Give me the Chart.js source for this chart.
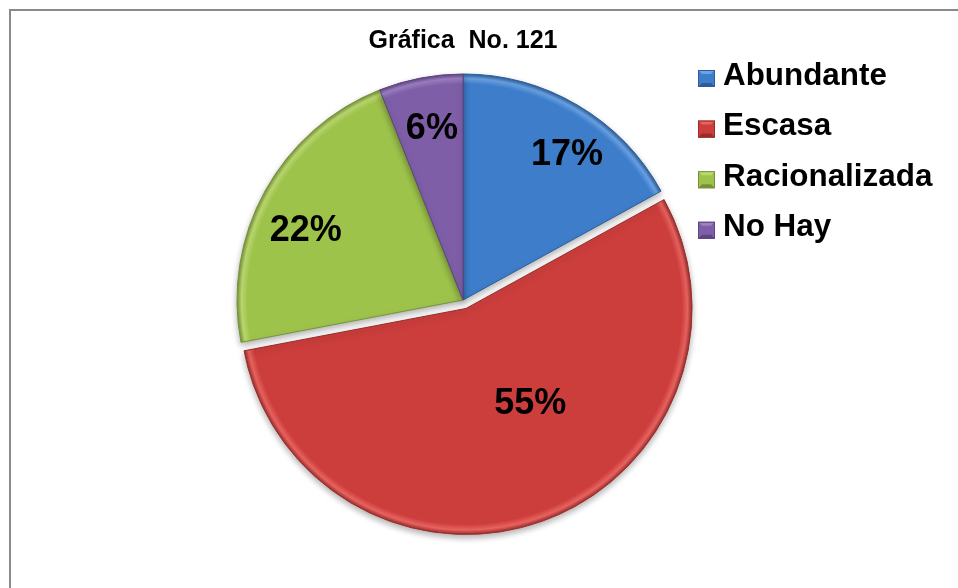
<!DOCTYPE html>
<html lang="es">
<head>
<meta charset="UTF-8">
<title>Gráfica No. 121</title>
<script src="https://cdn.jsdelivr.net/npm/chart.js"></script>
<style>
    body {
        margin: 0;
        background: #fff;
    }
    .contenedor {
        position: relative;
        width: 958px;
        height: 588px;
        overflow: hidden;
    }
    .marco {
        position: absolute;
        left: 9px;
        top: 9px;
        width: 1000px;
        height: 1000px;
        border: 2px solid #8a8a8a;
    }
    canvas {
        position: absolute;
        left: 0;
        top: 0;
    }
</style>
</head>
<body>
<div class="contenedor">
    <div class="marco"></div>
    <canvas id="grafica" width="958" height="588"></canvas>
</div>

<script>
// datos de la gráfica
const titulo = 'Gráfica  No. 121';
const categorias = ['Abundante', 'Escasa', 'Racionalizada', 'No Hay'];
const porcentajes = [17, 55, 22, 6];

// colores: base, brillo y borde de cada porción
const colorBase = ['#3d7dca', '#cc3e3c', '#9ec34b', '#7e5ea7'];
const colorClaro = ['#6aa3e6', '#e86360', '#bcd970', '#9d80c4'];
const colorOscuro = ['#2c5d98', '#9a2d2b', '#76933a', '#5d4580'];

// la porción "Escasa" va separada del resto
const separacion = [0, 9, 0, 0];

// dónde va cada porcentaje: fracción del radio y giro en grados
const ubicacionEtiquetas = [
    { dist: 0.79, giro: 5 },
    { dist: 0.51, giro: -14 },
    { dist: 0.76, giro: -5 },
    { dist: 0.77, giro: 0.5 }
];

const fuente = '"Liberation Sans", Arial, sans-serif';

function anguloMedio(i) {
    const total = porcentajes.reduce((a, b) => a + b, 0);
    const antes = porcentajes.slice(0, i).reduce((a, b) => a + b, 0);
    return -Math.PI / 2 + 2 * Math.PI * (antes + porcentajes[i] / 2) / total;
}

function rellenoPorcion(ctx) {
    const i = ctx.dataIndex;
    const chart = ctx.chart;
    const area = chart.chartArea;
    if (!area) return colorBase[i];
    const r = ctx.dataset.radius;
    const a = anguloMedio(i);
    const cx = (area.left + area.right) / 2 + Math.cos(a) * separacion[i];
    const cy = (area.top + area.bottom) / 2 + Math.sin(a) * separacion[i];
    const g = chart.ctx.createRadialGradient(cx, cy, 0, cx, cy, r);
    g.addColorStop(0, colorBase[i]);
    g.addColorStop(0.955, colorBase[i]);
    g.addColorStop(0.98, colorClaro[i]);
    g.addColorStop(1, colorOscuro[i]);
    return g;
}

// mueve hacia afuera las porciones separadas
const separarPorciones = {
    id: 'separarPorciones',
    afterDatasetUpdate(chart, args) {
        args.meta.data.forEach((arc, i) => {
            const s = separacion[i] || 0;
            if (!s) return;
            const mid = (arc.startAngle + arc.endAngle) / 2;
            arc.x += Math.cos(mid) * s;
            arc.y += Math.sin(mid) * s;
        });
    }
};

// sombra suave debajo del pastel
const sombra = {
    id: 'sombra',
    beforeDatasetsDraw(chart) {
        const c = chart.ctx;
        c.save();
        c.shadowColor = 'rgba(0, 0, 0, 0.3)';
        c.shadowBlur = 6;
        c.shadowOffsetY = 3;
    },
    afterDatasetsDraw(chart) {
        chart.ctx.restore();
    }
};

// porcentajes dentro de cada porción
const etiquetas = {
    id: 'etiquetas',
    afterDatasetsDraw(chart) {
        const c = chart.ctx;
        const meta = chart.getDatasetMeta(0);
        c.save();
        c.font = 'bold 36px ' + fuente;
        c.fillStyle = '#000';
        c.textAlign = 'center';
        c.textBaseline = 'middle';
        meta.data.forEach((arc, i) => {
            const p = arc.getProps(['x', 'y', 'startAngle', 'endAngle', 'outerRadius'], true);
            const u = ubicacionEtiquetas[i];
            const a = (p.startAngle + p.endAngle) / 2 + u.giro * Math.PI / 180;
            const d = u.dist * p.outerRadius;
            c.fillText(porcentajes[i] + '%', p.x + Math.cos(a) * d, p.y + Math.sin(a) * d);
        });
        c.restore();
    }
};

// leyenda a la derecha con cuadros en relieve
const leyenda = {
    id: 'leyenda',
    afterDraw(chart) {
        const c = chart.ctx;
        const x = 698, y0 = 76, paso = 50.6, lado = 17, xTexto = 723;
        c.save();
        categorias.forEach((nombre, i) => {
            const y = y0 + paso * i;
            const bx = x, by = y + 2.5 - lado / 2;
            const m = 4;
            c.fillStyle = colorBase[i];
            c.fillRect(bx, by, lado, lado);
            // cara superior clara
            c.fillStyle = colorClaro[i];
            c.beginPath();
            c.moveTo(bx, by); c.lineTo(bx + lado, by);
            c.lineTo(bx + lado - m, by + m); c.lineTo(bx + m, by + m);
            c.closePath(); c.fill();
            // cara inferior oscura
            c.fillStyle = colorOscuro[i];
            c.beginPath();
            c.moveTo(bx, by + lado); c.lineTo(bx + lado, by + lado);
            c.lineTo(bx + lado - m, by + lado - m); c.lineTo(bx + m, by + lado - m);
            c.closePath(); c.fill();
            c.strokeStyle = colorOscuro[i];
            c.lineWidth = 1;
            c.strokeRect(bx + 0.5, by + 0.5, lado - 1, lado - 1);

            c.fillStyle = '#000';
            c.font = 'bold 31.4px ' + fuente;
            c.textAlign = 'left';
            c.textBaseline = 'middle';
            c.fillText(nombre, xTexto, y);
        });
        c.restore();
    }
};

new Chart(document.getElementById('grafica'), {
    type: 'pie',
    data: {
        labels: categorias,
        datasets: [{
            data: porcentajes,
            radius: 226,
            backgroundColor: rellenoPorcion,
            borderColor: colorOscuro,
            borderWidth: 1
        }]
    },
    options: {
        responsive: false,
        animation: false,
        layout: {
            padding: { top: 10, left: 0, right: 32, bottom: 44 }
        },
        plugins: {
            legend: { display: false },
            tooltip: { enabled: false },
            title: {
                display: true,
                text: titulo,
                color: '#000',
                font: { family: fuente, size: 25, weight: 'bold' },
                padding: { top: 16, bottom: 0 }
            }
        }
    },
    plugins: [separarPorciones, sombra, etiquetas, leyenda]
});
</script>
</body>
</html>
